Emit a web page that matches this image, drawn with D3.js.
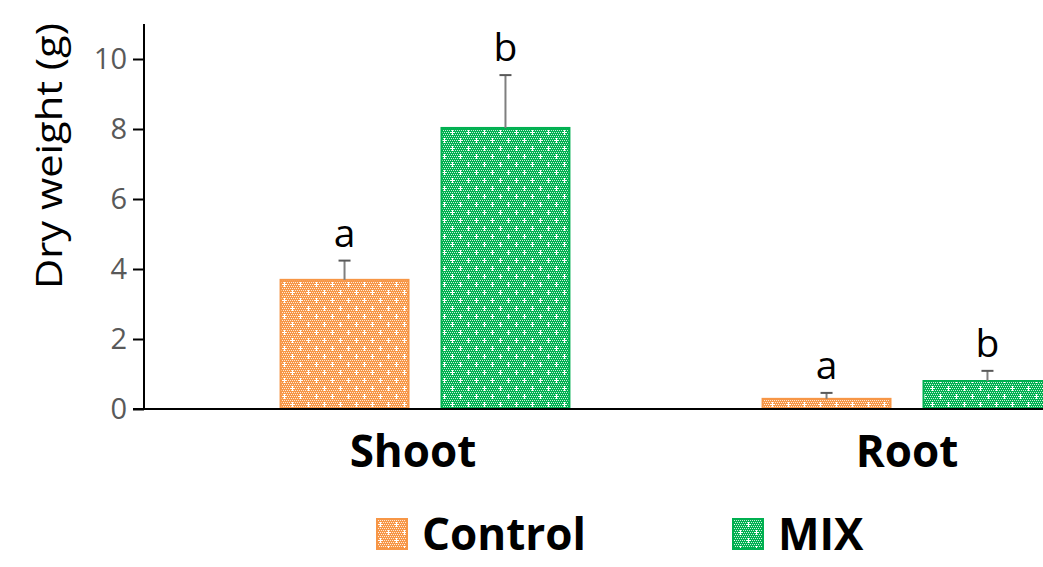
<!DOCTYPE html>
<html><head><meta charset="utf-8">
<script src="https://cdnjs.cloudflare.com/ajax/libs/d3/7.8.5/d3.min.js"></script>
<style>body{margin:0;background:#fff}svg{display:block}</style>
</head><body>
<script>
const categories = ["Shoot", "Root"];
const seriesNames = ["Control", "MIX"];
const controlValues = [3.69, 0.29];
const mixValues = [8.03, 0.80];
const controlErrors = [0.55, 0.17];
const mixErrors = [1.51, 0.29];
const controlLetters = ["a", "a"];
const mixLetters = ["b", "b"];
const yTicks = [0, 2, 4, 6, 8, 10];
const colors = ["#F79646", "#00B050"];

const W = 1043, H = 567;
const svg = d3.select("body").append("svg").attr("width", W).attr("height", H);
const defs = svg.append("defs");
colors.forEach((c, i) => {
  const p = defs.append("pattern").attr("id", "pat" + i).attr("patternUnits", "userSpaceOnUse")
    .attr("width", 16).attr("height", 16);
  p.append("rect").attr("width", 16).attr("height", 16).attr("fill", c);
  for (let y = 0; y < 16; y += 2) for (let x = (y / 2) % 2; x < 16; x += 2)
    p.append("rect").attr("x", x).attr("y", y).attr("width", 1).attr("height", 1).attr("fill", "#fff").attr("opacity", 0.8);
  [[4, 4], [12, 12]].forEach(([cx, cy]) => {
    p.append("rect").attr("x", cx - 2).attr("y", cy).attr("width", 5).attr("height", 1).attr("fill", "#fff");
    p.append("rect").attr("x", cx).attr("y", cy - 2).attr("width", 1).attr("height", 5).attr("fill", "#fff");
  });
});

const y = d3.scaleLinear().domain([0, 11]).range([409, 24]);
const x = d3.scaleBand().domain(categories).range([184, 1148]);
const xs = d3.scaleBand().domain(seriesNames).range([0, x.bandwidth()]).paddingInner(0.205).paddingOuter(0.6);

const data = [];
categories.forEach((c, i) => {
  data.push({c, s: "Control", v: controlValues[i], e: controlErrors[i], l: controlLetters[i], k: 0});
  data.push({c, s: "MIX", v: mixValues[i], e: mixErrors[i], l: mixLetters[i], k: 1});
});

const bw = xs.bandwidth();
const g = svg.append("g");
g.selectAll("rect.bar").data(data).join("rect").attr("class", "bar")
  .attr("x", d => x(d.c) + xs(d.s)).attr("y", d => y(d.v))
  .attr("width", bw).attr("height", d => y(0) - y(d.v))
  .attr("fill", d => `url(#pat${d.k})`).attr("stroke", d => colors[d.k]).attr("stroke-width", 2);

// error bars
data.forEach(d => {
  const cx = x(d.c) + xs(d.s) + bw / 2;
  g.append("line").attr("x1", cx).attr("x2", cx).attr("y1", y(d.v)).attr("y2", y(d.v + d.e))
    .attr("stroke", "#7f7f7f").attr("stroke-width", 2);
  g.append("line").attr("x1", cx - 6).attr("x2", cx + 6).attr("y1", y(d.v + d.e)).attr("y2", y(d.v + d.e))
    .attr("stroke", "#595959").attr("stroke-width", 2);
  g.append("text").attr("x", cx).attr("y", y(d.v + d.e) - 14).attr("text-anchor", "middle")
    .attr("font-family", "Open Sans, sans-serif").attr("font-size", 39).attr("fill", "#000").text(d.l);
});

// y axis
const yAxis = d3.axisLeft(y).tickValues(yTicks).tickSize(11).tickPadding(6).tickFormat(d3.format("d"));
const ya = svg.append("g").attr("transform", "translate(144,0)").call(yAxis);
ya.select(".domain").attr("d", `M-11,${y(0)}H0V${y(11)}`).attr("stroke", "#000").attr("stroke-width", 2);
ya.selectAll(".tick line").attr("stroke", "#000").attr("stroke-width", 2);
ya.selectAll(".tick text").attr("font-family", "Open Sans, sans-serif").attr("font-size", 29).attr("fill", "#595959");

// x axis line
svg.append("line").attr("x1", 144).attr("x2", W).attr("y1", y(0)).attr("y2", y(0)).attr("stroke", "#000").attr("stroke-width", 2);

// category labels
svg.selectAll("text.cat").data(categories).join("text").attr("class", "cat")
  .attr("x", (d, i) => x(d) + x.bandwidth() / 2 - (i === 0 ? 12 : 0)).attr("y", 467).attr("text-anchor", "middle")
  .attr("font-family", "Open Sans, sans-serif").attr("font-weight", "bold").attr("font-size", 44).attr("fill", "#000").text(d => d);

// y title
svg.append("text").attr("transform", "translate(62,156) rotate(-90)").attr("text-anchor", "middle")
  .attr("font-family", "Open Sans, sans-serif").attr("font-size", 36).attr("fill", "#000")
  .attr("textLength", 266).attr("lengthAdjust", "spacingAndGlyphs").text("Dry weight (g)");

// legend
const legX = [377, 733];
seriesNames.forEach((s, i) => {
  svg.append("rect").attr("x", legX[i]).attr("y", 519).attr("width", 30).attr("height", 30)
    .attr("fill", `url(#pat${i})`).attr("stroke", colors[i]).attr("stroke-width", 2);
  svg.append("text").attr("x", legX[i] + 45).attr("y", 550).attr("font-family", "Open Sans, sans-serif")
    .attr("font-weight", "bold").attr("font-size", 44).attr("fill", "#000").text(s);
});
</script>
</body></html>
